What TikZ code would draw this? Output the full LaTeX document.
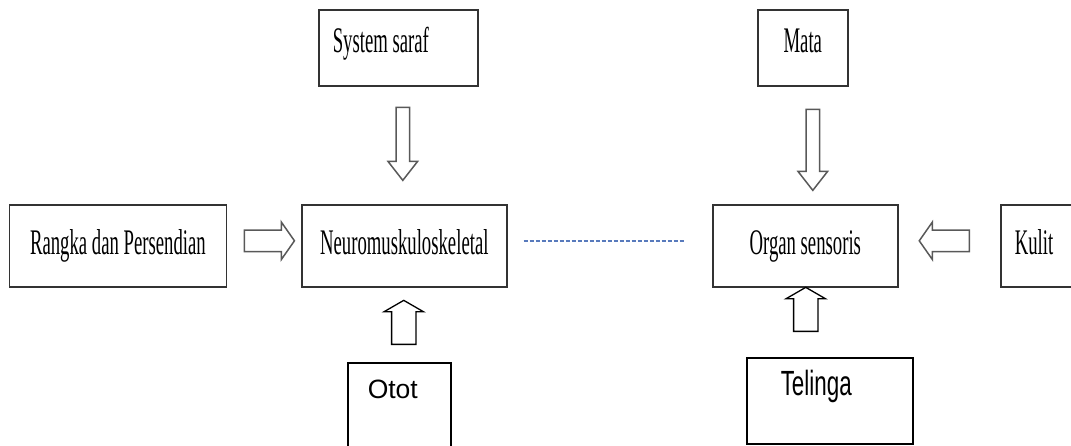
\documentclass[tikz,border=0pt]{standalone}
\usepackage{fontspec}
\usetikzlibrary{shapes.arrows,calc}

\newfontfamily\boxserif[FakeStretch=0.52]{Liberation Serif}
\newfontfamily\boxsans{Liberation Sans}
\newfontfamily\narrowsans[FakeStretch=0.64]{Liberation Sans}
\definecolor{linkblue}{RGB}{88,122,188}

\tikzset{
	box/.style = {draw = black!80, line width = 1.6pt, inner sep = 0pt,
		font = \boxserif\fontsize{36}{36}\selectfont, anchor = north west},
	toprow/.style = {text height = 43pt, text depth = 33pt},
	midrow/.style = {text height = 50pt, text depth = 32pt},
	plainbox/.style = {draw = black, line width = 1.5pt, inner sep = 0pt,
		align = flush left, anchor = north west},
	harrow/.style = {single arrow, draw = black!65, line width = 1.5pt,
		inner sep = 10pt, single arrow head extend = 8pt,
		single arrow tip angle = 110, minimum height = 50pt, anchor = tail},
	downarrow/.style = {single arrow, draw = black!65, line width = 1.5pt,
		inner sep = 6pt, single arrow head extend = 8pt,
		single arrow tip angle = 76, shape border rotate = 270, anchor = tail},
	uparrow/.style = {single arrow, draw = black, line width = 1.3pt,
		inner sep = 11.5pt, single arrow head extend = 7.5pt,
		single arrow tip angle = 120, shape border rotate = 90,
		minimum height = 44pt, anchor = tail},
	link/.style = {draw = linkblue, line width = 2pt, dash pattern = on 4pt off 2pt}
}

\begin{document}
\begin{tikzpicture}[x = 1pt, y = -1pt]
	\useasboundingbox (0,0) rectangle (1071,445);

	% boxes
	\node[box, toprow, text width = 131pt, inner xsep = 14pt, align = flush left] (saraf) at (318,9) {System saraf};
	\node[box, toprow, minimum width = 90pt] (mata) at (757,9) {Mata};
	\node[box, midrow, minimum width = 217pt] (rangka) at (8.6,204) {Rangka dan Persendian};
	\node[box, midrow, minimum width = 205pt] (neuro) at (301,204) {Neuromuskuloskeletal};
	\node[box, midrow, minimum width = 185pt] (organ) at (712,204) {Organ sensoris};
	\node[box, midrow, text width = 110pt, inner xsep = 14pt, align = flush left] (kulit) at (1000,204) {Kulit};
	\node[plainbox, font = \boxsans\fontsize{26.5}{26.5}\selectfont, text width = 63pt,
		inner xsep = 20pt, text height = 36pt, text depth = 52pt] (otot) at (347,362) {Otot};
	\node[plainbox, font = \narrowsans\fontsize{35}{35}\selectfont, text width = 98pt,
		inner xsep = 34pt, text height = 38pt, text depth = 48pt] (telinga) at (746,357) {Telinga};

	% arrows
	\node[harrow] (a1) at ($(rangka.east)+(16.5,-5)$) {};
	\node[harrow, shape border rotate = 180] (a2) at ($(kulit.west)+(-30,-5)$) {};
	\node[downarrow, minimum height = 73pt] (a3) at ($(saraf.south)+(4.5,20)$) {};
	\node[downarrow, minimum height = 81pt] (a4) at ($(mata.south)+(10,22)$) {};
	\node[uparrow] (a5) at ($(otot.north)+(4.5,-17)$) {};
	\node[uparrow] (a6) at ($(telinga.north)+(-24,-25)$) {};

	\draw[link, shorten <= 16pt, shorten >= 27pt] ([yshift = 5pt]neuro.east) -- ([yshift = 5pt]organ.west);
\end{tikzpicture}
\end{document}
